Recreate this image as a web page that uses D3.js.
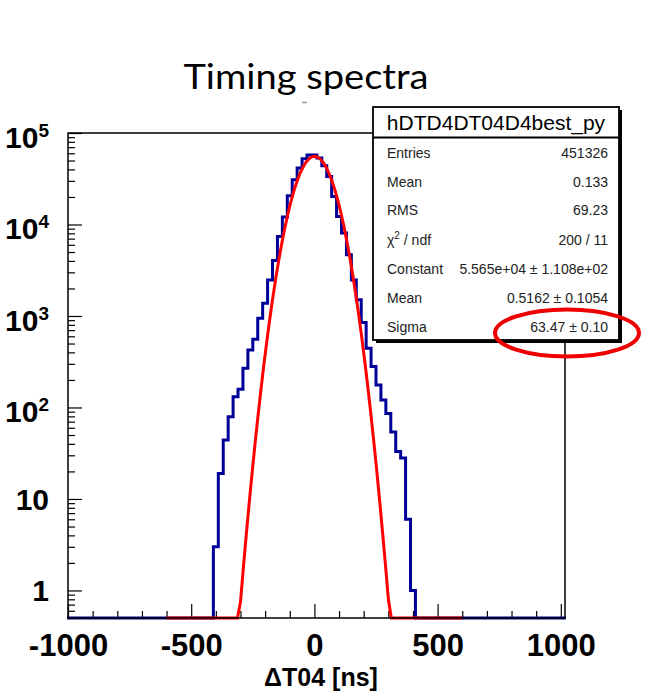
<!DOCTYPE html>
<html>
<head>
<meta charset="utf-8">
<script src="https://cdn.jsdelivr.net/npm/d3@7"></script>
<style>
  html, body { margin: 0; padding: 0; background: #fff; }
  svg { display: block; }
</style>
</head>
<body>
<svg id="chart" width="648" height="691"></svg>
<script>
// ---------------- data ----------------
const chartTitle = "Timing spectra";
const xAxisTitle = "ΔT04 [ns]";
const histName = "hDTD4DT04D4best_py";

// histogram bins (20 ns wide), centres of the non-empty bins and their counts
const binWidth = 20;
const binCenters = [-400,-380,-360,-340,-320,-300,-280,-260,-240,-220,-200,-180,-160,-140,-120,-100,-80,-60,-40,-20,
                    0,20,40,60,80,100,120,140,160,180,200,220,240,260,280,300,320,340,360,380,400];
const binCounts  = [3,19,44,79,131,158,268,426,557,946,1380,2480,4040,7390,12050,20600,30800,41400,52400,57500,
                    57500,53300,43900,33500,20250,12240,8050,4660,2480,1500,847,444,280,176,121,86,54,33,28,6,1];

// gaussian fit curve as drawn
const fitX = [-600,-312,-300,-288,-276,-264,-252,-240,-228,-216,-204,-192,-180,-168,-156,-144,-132,-120,-108,-96,-84,-72,-60,-48,-36,-24,-12,
              0,12,24,36,48,60,72,84,96,108,120,132,144,156,168,180,192,204,216,228,240,252,264,276,288,300,312,600];
const fitY = [0.1,0.30,0.75,1.81,4.21,9.42,20.3,42.4,85.2,165,310,559,975,1639,2660,4165,6294,9174,12901,17510,22930,28971,35322,41549,47160,51649,54578,
              55650,54747,51969,47600,42068,35873,29515,23432,17950,13266,9463,6512,4323,2770,1712,1021,588,326,175,90.4,45.1,21.7,10.1,4.52,1.95,0.81,0.33,0.1];

// axes
const xDomain = [-1000, 1017];
const yDomain = [0.5, 1e5];
const xMajorTicks = [-1000, -500, 0, 500, 1000];
const xTickLabels = ["-1000", "-500", "0", "500", "1000"];
const xMinorTicks = [-900,-800,-700,-600,-400,-300,-200,-100,100,200,300,400,600,700,800,900];
const yMajorTicks = [1, 10, 100, 1000, 10000, 100000];
const yTickLabels = [["1",""],["10",""],["10","2"],["10","3"],["10","4"],["10","5"]];
const yMinorTicks = [0.5,0.6,0.7,0.8,0.9,
  2,3,4,5,6,7,8,9, 20,30,40,50,60,70,80,90, 200,300,400,500,600,700,800,900,
  2000,3000,4000,5000,6000,7000,8000,9000, 20000,30000,40000,50000,60000,70000,80000,90000];

// stats box
const statLabels = ["Entries", "Mean", "RMS", "χ", "Constant", "Mean", "Sigma"];
const statValues = ["451326", "0.133", "69.23", "200 / 11", "5.565e+04 ± 1.108e+02", "0.5162 ± 0.1054", "63.47 ± 0.10"];

// ---------------- drawing ----------------
const svg = d3.select("#chart");
const L = 68, R = 565, T = 133, B = 618;

const x = d3.scaleLinear().domain(xDomain).range([L, R]);
const y = d3.scaleLog().domain(yDomain).range([B, T]).clamp(true);

// title
svg.append("text")
  .attr("x", 306).attr("y", 89)
  .attr("text-anchor", "middle")
  .attr("font-family", "Lato, 'Open Sans', sans-serif")
  .attr("font-size", 34)
  .attr("textLength", 245)
  .attr("lengthAdjust", "spacingAndGlyphs")
  .attr("fill", "#000")
  .text(chartTitle);
svg.append("line").attr("x1", 302).attr("x2", 307).attr("y1", 102.5).attr("y2", 102.5)
  .attr("stroke", "#999").attr("stroke-width", 1.5);

// clip
svg.append("defs").append("clipPath").attr("id", "plotclip")
  .append("rect").attr("x", L - 1).attr("y", T).attr("width", R - L + 2).attr("height", B - T + 2);

// axes ticks (inward)
const axisFont = "'Liberation Sans', Arial, sans-serif";
function tickAxis(axis, tf) {
  return svg.append("g").attr("transform", tf)
    .call(axis)
    .call(g => g.select(".domain").remove())
    .call(g => g.selectAll("line").attr("stroke", "#000").attr("stroke-width", 1.2));
}
tickAxis(d3.axisRight(y).tickValues(yMinorTicks).tickSize(7).tickFormat(""), `translate(${L},0)`);
tickAxis(d3.axisRight(y).tickValues(yMajorTicks).tickSize(14).tickFormat(""), `translate(${L},0)`);
tickAxis(d3.axisTop(x).tickValues(xMinorTicks).tickSize(7).tickFormat(""), `translate(0,${B})`);
tickAxis(d3.axisTop(x).tickValues(xMajorTicks).tickSize(14).tickFormat(""), `translate(0,${B})`);

// x labels
const xl = svg.append("g").attr("transform", `translate(0,${B})`)
  .call(d3.axisBottom(x).tickValues(xMajorTicks).tickSize(0).tickPadding(16)
        .tickFormat((d, i) => xTickLabels[i]));
xl.select(".domain").remove();
xl.selectAll("text").attr("font-family", axisFont).attr("font-weight", "bold")
  .attr("font-size", 31).attr("fill", "#000");

// x title
svg.append("text").attr("x", 321).attr("y", 685.5).attr("text-anchor", "middle")
  .attr("font-family", axisFont).attr("font-weight", "bold").attr("font-size", 25)
  .attr("fill", "#000").text(xAxisTitle);

// y labels
yMajorTicks.forEach((v, i) => {
  const [base, exp] = yTickLabels[i];
  const t = svg.append("text").attr("text-anchor", "end").attr("x", 49)
    .attr("font-family", axisFont).attr("font-weight", "bold").attr("fill", "#000");
  if (exp) {
    t.attr("y", y(v) + 15);
    t.append("tspan").attr("font-size", 30).text(base);
    t.append("tspan").attr("font-size", 19).attr("dy", -11).text(exp);
  } else {
    t.attr("y", y(v) + 11).attr("font-size", 30).text(base);
  }
});

// histogram
const plot = svg.append("g").attr("clip-path", "url(#plotclip)");
const histPts = [[-1010, 0]];
binCenters.forEach((c, i) => histPts.push([c - binWidth / 2, binCounts[i]]));
histPts.push([binCenters[binCenters.length - 1] + binWidth / 2, 0]);
histPts.push([1020, 0]);
plot.append("path")
  .attr("d", d3.line().x(d => x(d[0])).y(d => y(d[1])).curve(d3.curveStepAfter)(histPts))
  .attr("fill", "none").attr("stroke", "#000099").attr("stroke-width", 3);

// fit
plot.append("path")
  .attr("d", d3.line().x((d, i) => x(fitX[i])).y((d, i) => y(fitY[i]))(fitX))
  .attr("fill", "none").attr("stroke", "#ff0000").attr("stroke-width", 3);

// frame
svg.append("rect").attr("x", L).attr("y", T).attr("width", R - L).attr("height", B - T)
  .attr("fill", "none").attr("stroke", "#000").attr("stroke-width", 1.5);

// stats box
const sx = 373, sy = 107, sw = 246, sh = 233;
svg.append("rect").attr("x", sx + 3).attr("y", sy + 3).attr("width", sw).attr("height", sh).attr("fill", "#000");
svg.append("rect").attr("x", sx).attr("y", sy).attr("width", sw).attr("height", sh)
  .attr("fill", "#fff").attr("stroke", "#000").attr("stroke-width", 1.8);
svg.append("line").attr("x1", sx).attr("x2", sx + sw).attr("y1", 137.5).attr("y2", 137.5)
  .attr("stroke", "#000").attr("stroke-width", 2);
svg.append("text").attr("x", sx + sw / 2).attr("y", 130).attr("text-anchor", "middle")
  .attr("font-family", axisFont).attr("font-size", 21).attr("fill", "#000").text(histName);
const rowY = [158, 187, 215, 245, 274, 303, 332];
statLabels.forEach((lab, i) => {
  const t = svg.append("text").attr("x", 387).attr("y", rowY[i])
    .attr("font-family", axisFont).attr("font-size", 14).attr("fill", "#222").text(lab);
  if (lab === "χ") {
    t.append("tspan").attr("font-size", 10).attr("dy", -6).text("2");
    t.append("tspan").attr("dy", 6).text(" / ndf");
  }
  svg.append("text").attr("x", 608).attr("y", rowY[i]).attr("text-anchor", "end")
    .attr("font-family", axisFont).attr("font-size", 14).attr("fill", "#222").text(statValues[i]);
});

// highlight ellipse
svg.append("ellipse").attr("cx", 567).attr("cy", 333).attr("rx", 72).attr("ry", 23.5)
  .attr("fill", "none").attr("stroke", "#ee0000").attr("stroke-width", 4);
</script>
</body>
</html>
